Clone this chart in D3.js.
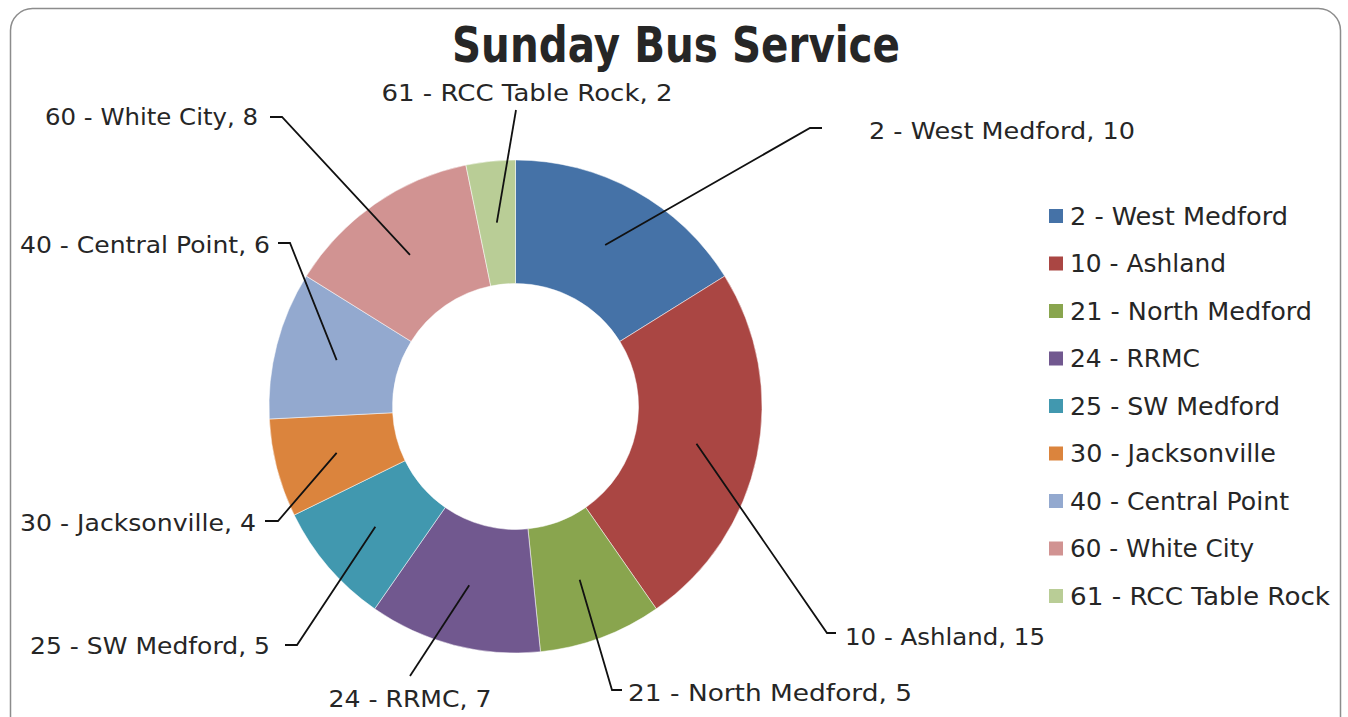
<!DOCTYPE html>
<html>
<head>
<meta charset="utf-8">
<script src="https://cdn.jsdelivr.net/npm/d3@7"></script>
<style>
  body { margin: 0; background: #fff; }
  text { font-family: "DejaVu Sans", "Liberation Sans", sans-serif; fill: #262626; }
</style>
</head>
<body>
<div class="bus_chart"></div>
<script>
// data
var routes = ["2 - West Medford", "10 - Ashland", "21 - North Medford", "24 - RRMC",
  "25 - SW Medford", "30 - Jacksonville", "40 - Central Point", "60 - White City", "61 - RCC Table Rock"];
var buses = [10, 15, 5, 7, 5, 4, 6, 8, 2];
var colors = ["#4572A7", "#AA4643", "#89A54E", "#71588F", "#4198AF", "#DB843D", "#93A9CF", "#D19392", "#B9CD96"];

// where excel put each data label (elbow of leader line, text side)
var labelElbow = [[810, 128], [827, 633], [612, 690], [410, 676], [297, 645], [278, 521], [290, 243], [282, 117], [516, 110]];
var labelText = [[869, 139, "start", 266], [845, 645, "start", 200], [628, 701, "start", 284], [410, 707, "middle", 163],
  [270, 654, "end", 240], [256, 531, "end", 236], [270, 253, "end", 250], [258, 125, "end", 213], [527, 101, "middle", 291]];
var labelTail = [12, 9, 10, 0, -12, -13, -12, -12, 0];
// legend text widths (century gothic is wide)
var legendWidths = [218, 156, 242, 130, 210, 206, 219, 184, 260];

var width = 1348, height = 717;
var cx = 515.5, cy = 406.5, outerR = 246.5, innerR = 123;

var svg = d3.select(".bus_chart")
  .append("svg")
  .attr("width", width)
  .attr("height", height);

// chart border
svg.append("rect")
  .attr("x", 10.5)
  .attr("y", 8.5)
  .attr("width", 1330)
  .attr("height", 740)
  .attr("rx", 22)
  .attr("fill", "none")
  .attr("stroke", "#8c8c8c")
  .attr("stroke-width", 1.5);

svg.append("text")
  .attr("x", 676)
  .attr("y", 62)
  .attr("text-anchor", "middle")
  .attr("textLength", 448)
  .attr("lengthAdjust", "spacingAndGlyphs")
  .style("font-size", "50px")
  .style("font-weight", "bold")
  .text("Sunday Bus Service");

var pie = d3.pie().sort(null);
var arcs = pie(buses);

var arc = d3.arc().innerRadius(innerR).outerRadius(outerR);
var mid = d3.arc().innerRadius((innerR + outerR) / 2).outerRadius((innerR + outerR) / 2);

var g = svg.append("g")
  .attr("transform", "translate(" + cx + "," + cy + ")");

g.selectAll(".slice")
  .data(arcs)
  .enter().append("path")
  .attr("class", "slice")
  .attr("d", arc)
  .attr("fill", function(d, i) { return colors[i]; })
  .attr("stroke", "#fff")
  .attr("stroke-width", 0.5);

// leader lines
svg.selectAll(".leader")
  .data(arcs)
  .enter().append("polyline")
  .attr("class", "leader")
  .attr("points", function(d, i) {
    var c = mid.centroid(d);
    var e = labelElbow[i];
    var pts = [[cx + c[0], cy + c[1]], e];
    if (labelTail[i] != 0) pts.push([e[0] + labelTail[i], e[1]]);
    return pts.map(function(p) { return p.join(","); }).join(" ");
  })
  .attr("fill", "none")
  .attr("stroke", "#111")
  .attr("stroke-width", 1.8);

svg.selectAll(".label")
  .data(arcs)
  .enter().append("text")
  .attr("class", "label")
  .attr("x", function(d, i) { return labelText[i][0]; })
  .attr("y", function(d, i) { return labelText[i][1]; })
  .attr("text-anchor", function(d, i) { return labelText[i][2]; })
  .attr("textLength", function(d, i) { return labelText[i][3]; })
  .attr("lengthAdjust", "spacingAndGlyphs")
  .style("font-size", "23px")
  .text(function(d, i) { return routes[i] + ", " + d.value; });

// legend
var legend = svg.selectAll(".legend")
  .data(routes)
  .enter().append("g")
  .attr("class", "legend")
  .attr("transform", function(d, i) { return "translate(1049," + (216 + i * 47.5) + ")"; });

legend.append("rect")
  .attr("x", 0)
  .attr("y", -7)
  .attr("width", 14)
  .attr("height", 14)
  .attr("fill", function(d, i) { return colors[i]; });

legend.append("text")
  .attr("x", 21)
  .attr("y", 8.5)
  .attr("textLength", function(d, i) { return legendWidths[i]; })
  .attr("lengthAdjust", "spacingAndGlyphs")
  .style("font-size", "24px")
  .text(function(d) { return d; });
</script>
</body>
</html>
